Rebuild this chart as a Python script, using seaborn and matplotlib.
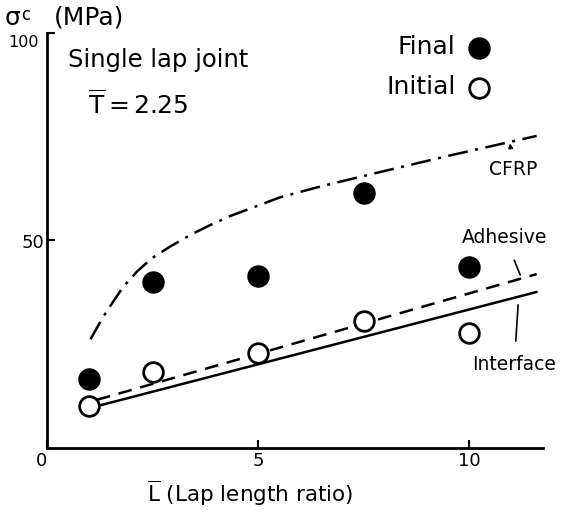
import matplotlib
matplotlib.use("Agg")
import matplotlib.pyplot as plt
import matplotlib.transforms as mtransforms
import seaborn as sns
import pandas as pd

# measured points
lap_ratio = [1, 2.5, 5, 7.5, 10]
final_stress = [16.6, 40.0, 41.4, 61.4, 43.6]
initial_stress = [10.1, 18.3, 22.9, 30.6, 27.7]

# predicted curves
cfrp_x = [1.03, 1.33, 1.57, 1.81, 2.13, 2.48, 2.91, 3.39, 3.82, 4.34, 5.52, 6.47, 7.81, 9.55, 11.6]
cfrp_y = [26.2, 31.6, 35.3, 38.9, 42.5, 45.7, 48.5, 51.3, 53.5, 55.9, 60.4, 63.0, 66.3, 70.5, 75.2]
adhesive_x = [1.18, 11.6]
adhesive_y = [11.6, 41.9]
interface_x = [1.0, 11.6]
interface_y = [9.6, 37.6]

sns.set_style("ticks")
plt.rcParams["font.family"] = ["DejaVu Sans"]
plt.rcParams["text.color"] = "black"

fig = plt.figure(figsize=(5.61, 5.12), dpi=100)
ax = fig.add_axes([47 / 561, 64 / 512, 496 / 561, 415 / 512])

sns.lineplot(x=cfrp_x, y=cfrp_y, ax=ax, color="black", lw=1.8,
             linestyle=(0, (8, 3, 1.2, 3)), sort=False)
sns.lineplot(x=adhesive_x, y=adhesive_y, ax=ax, color="black", lw=1.8,
             linestyle=(0, (5.5, 3.5)))
sns.lineplot(x=interface_x, y=interface_y, ax=ax, color="black", lw=1.8)

pts = pd.DataFrame({"L": lap_ratio, "final": final_stress, "initial": initial_stress})
sns.scatterplot(data=pts, x="L", y="final", ax=ax, s=230, color="black",
                edgecolor="black", linewidth=1, label="Final", zorder=5)
sns.scatterplot(data=pts, x="L", y="initial", ax=ax, s=200, color="white",
                edgecolor="black", linewidth=2, label="Initial", zorder=5)

ax.set_xlim(0, 11.75)
ax.set_ylim(0, 100)
ax.set_xticks([0, 5, 10])
ax.set_xticklabels(["0", "5", "10"])
ax.set_yticks([50, 100])
ax.set_yticklabels(["50", "100"])
ax.tick_params(direction="in", length=6, width=1.5, labelsize=13, pad=3,
               colors="black")
ax.tick_params(axis="y", pad=2)
for side in ["top", "right"]:
    ax.spines[side].set_visible(False)
for side in ["left", "bottom"]:
    ax.spines[side].set_linewidth(2)
    ax.spines[side].set_color("black")
ax.set_xlabel("")
ax.set_ylabel("")

# shared origin label sits a bit left, "100" is smaller and lower
fig.canvas.draw()
ax.get_xticklabels()[0].set_transform(
    ax.get_xticklabels()[0].get_transform()
    + mtransforms.ScaledTranslation(-6 / 100, 0, fig.dpi_scale_trans))
lab100 = ax.get_yticklabels()[1]
lab100.set_fontsize(11.5)
lab100.set_transform(
    lab100.get_transform()
    + mtransforms.ScaledTranslation(-5 / 100, -8 / 100, fig.dpi_scale_trans))

leg = ax.legend(loc="upper right", bbox_to_anchor=(0.922, 1.025), frameon=False,
                markerfirst=False, fontsize=18, borderpad=0, labelspacing=0.65,
                handletextpad=0.45, handlelength=1.0)

ax.text(0.5, 93.5, "Single lap joint", fontsize=17.5, va="center", ha="left")
ax.text(0.97, 82.9, r"$\overline{\mathrm{T}}=\mathrm{2.25}$", fontsize=18,
        va="center", ha="left")

ax.annotate("CFRP", xy=(10.97, 73.4), xytext=(11.04, 67.0), fontsize=13.5,
            ha="center", va="center",
            arrowprops=dict(arrowstyle="->", lw=1.2, color="black", shrinkA=6,
                            shrinkB=0, mutation_scale=6))
ax.annotate("Adhesive", xy=(11.21, 41.7), xytext=(10.85, 50.8), fontsize=13.5,
            ha="center", va="center",
            arrowprops=dict(arrowstyle="-", lw=1.2, color="black", shrinkA=8, shrinkB=0))
ax.annotate("Interface", xy=(11.16, 34.5), xytext=(11.07, 20.0), fontsize=13.5,
            ha="center", va="center",
            arrowprops=dict(arrowstyle="-", lw=1.2, color="black", shrinkA=8, shrinkB=0))

fig.text(5 / 561, 1 - 18 / 512, "σ", fontsize=18, va="center", ha="left")
fig.text(21 / 561, 1 - 15 / 512, "c", fontsize=12, va="center", ha="left")
fig.text(54 / 561, 1 - 17 / 512, "(MPa)", fontsize=18, va="center", ha="left")
fig.text(250 / 561, 1 - 493 / 512, r"$\overline{\mathrm{L}}$ (Lap length ratio)",
         fontsize=15.5, va="center", ha="center")

fig.savefig("out.png", dpi=100)
